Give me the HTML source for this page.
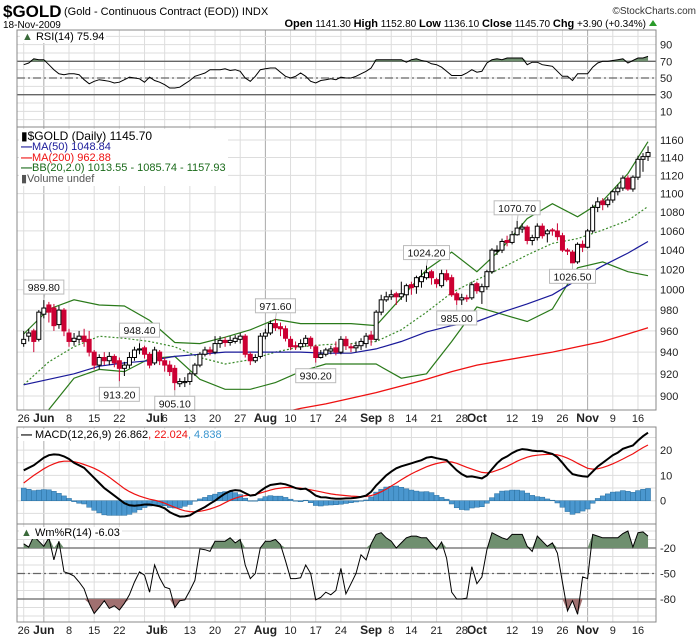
<!DOCTYPE html>
<html><head><meta charset="utf-8"><style>
html,body{margin:0;padding:0;background:#fff;}
svg{display:block;font-family:"Liberation Sans",sans-serif;}
</style></head><body>
<svg id="chart" width="700" height="639" viewBox="0 0 700 639" xmlns="http://www.w3.org/2000/svg">
<rect x="0" y="0" width="700" height="639" fill="#fff"/>
<text x="3" y="17" font-size="17" font-weight="bold">$GOLD</text>
<text x="64" y="15" font-size="11">(Gold - Continuous Contract (EOD)) INDX</text>
<text x="696" y="14" font-size="10" text-anchor="end" fill="#333">©StockCharts.com</text>
<text x="3" y="28" font-size="10">18-Nov-2009</text>
<text x="646" y="27" font-size="10" text-anchor="end"><tspan font-weight="bold" font-size="11">Open</tspan> 1141.30 <tspan font-weight="bold" font-size="11">High</tspan> 1152.80 <tspan font-weight="bold" font-size="11">Low</tspan> 1136.10 <tspan font-weight="bold" font-size="11">Close</tspan> 1145.70 <tspan font-weight="bold" font-size="11">Chg</tspan> +3.90 (+0.34%)</text>
<polygon points="649,26 653,20 657,26" fill="#2a9a2a"/>
<g id="grid"></g>
<g id="marks"></g>
<g id="overlay"></g>
</svg>
<script>
// ===== data =====
const closes=[952,958,950,978,982,978,965,980,960,950,953,955,950,940,928,935,932,936,930,925,928,935,942,943,938,928,942,932,928,922,912,913,913,920,928,938,942,940,948,951,949,951,953,955,938,932,935,955,958,967,963,962,953,945,945,948,953,946,935,938,942,943,940,952,946,944,946,950,955,952,978,990,993,995,993,996,1004,1002,1012,1013,1017,1012,1006,1016,1010,995,990,992,991,1005,999,1003,1018,1040,1040,1049,1048,1056,1063,1064,1050,1053,1065,1055,1060,1060,1054,1040,1039,1027,1046,1043,1060,1085,1091,1088,1093,1102,1106,1117,1105,1118,1138,1141,1145.7];
const opens=[948,955,960,952,976,985,982,966,980,958,950,952,955,952,940,928,935,932,936,932,925,928,935,942,944,938,930,940,932,928,925,911,912,913,920,928,938,942,940,948,951,949,950,952,955,938,932,936,955,958,967,964,962,952,946,945,948,953,945,935,938,941,944,940,952,945,944,946,948,956,952,978,990,993,996,993,995,1005,1003,1008,1012,1018,1010,1004,1016,1012,996,990,992,992,1006,998,1003,1018,1040,1040,1050,1048,1056,1062,1064,1050,1053,1065,1057,1061,1060,1055,1040,1038,1028,1046,1043,1060,1085,1092,1088,1093,1102,1106,1117,1105,1118,1138,1141.3];
const highs=[960,962,962,980,989.8,988,986,984,982,962,958,960,962,960,942,938,940,940,938,935,931,940,945,948.4,946,940,945,942,935,932,928,916,917,922,930,940,945,945,955,955,954,955,956,958,957,940,938,958,962,970,971.6,968,965,955,950,952,956,955,947,942,944,946,950,955,955,948,950,953,958,960,980,995,998,1000,998,1008,1006,1008,1014,1020,1024.2,1020,1012,1020,1020,1015,998,996,995,1008,1008,1006,1020,1042,1045,1052,1055,1060,1070.7,1068,1066,1056,1068,1068,1062,1063,1068,1058,1042,1040,1048,1050,1062,1088,1096,1095,1096,1104,1110,1120,1120,1120,1142,1145,1152.8];
const lows=[945,950,940,950,972,968,960,962,955,945,946,948,945,936,924,924,928,928,926,913.2,918,925,932,938,934,925,928,928,922,918,905.1,908,908,910,918,926,936,937,938,944,945,946,948,948,935,928,930,934,952,956,960,955,950,942,942,942,945,943,930.2,934,936,938,937,938,942,940,940,942,944,946,950,975,988,990,985,990,988,995,996,1002,1010,1005,1002,1002,1008,993,985,985,988,990,996,986,1000,1016,1035,1037,1044,1046,1055,1058,1046,1045,1050,1052,1048,1055,1050,1038,1035,1026.5,1026,1038,1042,1058,1080,1082,1085,1090,1098,1103,1103,1102,1115,1124,1136.1];
// overlays sampled at these bar indices
const sampleIdx=[0,5,10,15,20,25,30,35,40,45,50,55,60,65,70,75,80,85,90,95,100,105,110,115,120,124];
const bbUpper=[957,981,990,985,984,970,949,948,954,961,971,967,967,967,965,992,1020,1038,1018,1042,1073,1089,1075,1092,1122,1158];
const bbMid=[910,931,945,955,953,950,945,935,929,933,940,945,947,948,950,961,978,997,1010,1022,1035,1047,1052,1061,1071,1086];
const bbLower=[850,888,916,924,922,934,936,915,906,906,912,922,929,929,929,916,920,950,983,976,969,981,1022,1028,1018,1014];
const ma50=[910,915,920,927,930,932,936,938,940,940,940,940,939,939,943,950,959,965,969,978,986,995,1010,1024,1037,1049];
const ma200Idx=[52,55,60,65,70,75,80,85,90,95,100,105,110,115,120,124];
const ma200=[886,889,893,898,903,909,915,922,928,932,936,940,945,950,957,963];
const rsi=[66,68,73,72,72,66,60,55,54,55,55,54,48,43,46,48,47,46,44,45,48,51,50,49,45,51,47,45,42,38,38,39,43,47,52,54,56,60,60,60,61,59,60,58,50,46,52,60,61,62,62,57,52,50,52,56,52,46,44,47,48,49,48,51,50,50,52,55,58,62,72,72,72,72,72,72,69,72,73,71,70,67,66,63,58,53,53,53,56,60,57,58,68,72,73,72,74,74,74,74,66,69,69,66,65,64,58,52,52,47,55,55,55,63,68,70,70,71,72,73,68,71,74,74,75.94];
const macd=[12,13,14,15.5,17,18,18.3,18.2,17.5,16.5,15,14,13,11,9,7,5,3.5,2,0.5,-1,-1.8,-2,-1.8,-1.5,-1.5,-1.8,-2.2,-3,-4.5,-5.5,-6.3,-6.2,-5.8,-4.6,-3.5,-2.5,-1.2,0,1.5,2.8,3.8,4.2,4,3,2,2.3,3.8,5.2,6.2,6.5,6.8,6.5,5.8,5,4.6,4.8,3.5,2,1.4,1.3,1,0.8,0.8,0.9,1,1.2,1.5,2,3.5,6,8,10,11.5,12.8,13.6,14.2,14.8,15.4,16,17,17.3,16.8,16.4,16,14,12,10.5,9.5,9.6,9.2,8.8,10,12.5,14.8,16.5,17.5,18.8,19.8,20.4,20.2,19.8,19.6,19.6,19,18.5,17.2,15,12.5,10.5,10,9.7,9.5,11.5,13.5,15,16.5,18,19,20.5,21.2,21.8,23.8,25.5,26.862];
const signal=[7,8.5,10,11.3,12.6,13.7,14.6,15.3,15.6,15.6,15.4,15,14.3,13.6,12.8,11.8,10.6,9.3,7.8,6.3,4.8,3.6,2.6,1.8,1.2,0.6,0.2,-0.3,-1,-1.8,-2.6,-3.4,-4,-4.3,-4.4,-4.2,-3.8,-3.3,-2.6,-1.8,-0.8,0.2,1,1.6,2,2.2,2.4,3,3.6,4.2,4.7,5,5.2,5.2,5.1,5,4.6,4.3,3.9,3.5,3.1,2.7,2.4,2.2,2,1.8,1.7,1.6,1.7,2,2.6,3.5,4.6,5.8,7,8.3,9.5,10.6,11.6,12.5,13.4,14.1,14.7,15.1,15.4,15.3,14.8,14,13.2,12.5,11.8,11.2,11,11.3,12,12.7,13.6,14.6,15.6,16.5,17.2,17.7,18,18.2,18.3,18.3,18.1,17.6,16.8,15.9,14.8,13.8,12.8,12.5,12.6,13.1,13.8,14.6,15.5,16.5,17.5,18.5,19.8,21,22.024];
const willr=[-15,-19,-6,-12,-18,-8,-34,-12,-48,-50,-53,-60,-68,-85,-97,-90,-82,-91,-88,-93,-85,-75,-60,-48,-52,-72,-40,-55,-66,-68,-90,-82,-81,-70,-58,-21,-22,-24,-12,-12,-12,-8,-14,-10,-40,-56,-50,-20,-12,-12,-10,-16,-35,-56,-56,-55,-40,-50,-81,-78,-72,-75,-70,-44,-74,-62,-50,-28,-34,-15,-4,-2,-8,-12,-20,-14,-8,-6,-6,-8,-8,-15,-22,-13,-32,-72,-80,-80,-79,-42,-62,-54,-22,-2,-5,-8,-10,-4,-4,-4,-18,-24,-6,-12,-18,-14,-26,-60,-94,-82,-98,-54,-56,-4,-6,-8,-8,-8,-8,-3,0,-19,-2,-1,-6.03];
const tickIdx=[0,4,9,14,19,26,28,33,38,43,48,53,58,63,69,73,77,82,87,90,97,102,107,112,117,122];
const tickLabels=["26","Jun","8","15","22","Jul","6","13","20","27","Aug","10","17","24","Sep","8","14","21","28","Oct","12","19","26","Nov","9","16"];
const monthIdx=[4,26,48,69,90,112];
const weekIdx=[0,4,9,14,19,24,28,33,38,43,48,53,58,63,68,73,77,82,87,92,97,102,107,112,117,122];
const priceTicks=[900,920,940,960,980,1000,1020,1040,1060,1080,1100,1120,1140,1160];
const rsiTicks=[90,70,50,30,10];
const macdTicks=[20,10,0];
const wmTicks=[-20,-50,-80];
const annIdx=[4,23,19,30,50,58,80,86,98,109];
const annVal=[989.8,948.4,913.2,905.1,971.6,930.2,1024.2,985.0,1070.7,1026.5];
const annLabel=["989.80","948.40","913.20","905.10","971.60","930.20","1024.20","985.00","1070.70","1026.50"];
const annIsHigh=[1,1,0,0,1,0,1,0,1,0];

// ===== geometry =====
const L=17,R=656;
const P={rsi:[30,127],main:[127,410],macd:[427,524],wm:[524,622]};
const X=i=>23.7+5.035*i;
const yP=p=>140+Math.log(1160/p)*1008.7;
const yR=v=>78-(v-50)*0.8333;
const yM=v=>500.7-v*2.53;
const yW=v=>548-(v+20)*0.85;
const NS="http://www.w3.org/2000/svg";
const grid=document.getElementById('grid'),marks=document.getElementById('marks'),ov=document.getElementById('overlay');
function el(tag,attrs,parent){const e=document.createElementNS(NS,tag);for(const k in attrs)e.setAttribute(k,attrs[k]);(parent||marks).appendChild(e);return e;}

// clip paths
const defs=el('defs',{},document.getElementById('chart'));
for(const k in P){const cp=el('clipPath',{id:'clip-'+k},defs);el('rect',{x:L,y:P[k][0],width:R-L,height:P[k][1]-P[k][0]},cp);}

// panels & grids
for(const k in P){
  const [t,b]=P[k];
  const g=el('g',{},grid);
  
  
  for(const w of weekIdx){const x=X(w);const ln=el('line',{x1:x,x2:x,y1:t,y2:b,stroke:monthIdx.includes(w)?'#aaa':'#ddd','stroke-width':1},g);}
  let hv=[];
  if(k==='main')hv=priceTicks.map(yP);
  if(k==='rsi')for(let v=0;v<=100;v+=10)hv.push(yR(v));
  if(k==='macd')for(let v=-5;v<=25;v+=5)hv.push(yM(v));
  if(k==='wm')for(let v=0;v>=-100;v-=10)hv.push(yW(v));
  for(const y of hv){if(y>t&&y<b){const ln=el('line',{x1:L,x2:R,y1:y,y2:y,stroke:'#ddd','stroke-width':1},g);}}
}
// axis tick labels
function rlabel(y,txt,name){const t=el('text',{x:660,y:y+4,'font-size':11,fill:'#222'},ov);t.textContent=txt;}
priceTicks.forEach(p=>rlabel(yP(p),String(p),'price-axis-label'));
rsiTicks.forEach(v=>rlabel(yR(v),String(v),'rsi-axis-label'));
macdTicks.forEach(v=>rlabel(yM(v),String(v),'macd-axis-label'));
wmTicks.forEach(v=>rlabel(yW(v),String(v),'willr-axis-label'));
[418,630].forEach((yy,j)=>{tickIdx.forEach((ti,n)=>{const bold=monthIdx.includes(ti);const t=el('text',{x:X(ti),y:yy+4,'font-size':bold?12:11,'font-weight':bold?'bold':'normal','text-anchor':'middle',fill:'#222'},ov);t.textContent=tickLabels[n];});});

// reference lines
function hline(y,dash,name,col){const ln=el('line',{x1:L,x2:R,y1:y,y2:y,stroke:col||'#666','stroke-width':1.3,'stroke-dasharray':dash||'none'});}
hline(yR(70),null,'rsi-overbought-line');hline(yR(30),null,'rsi-oversold-line');hline(yR(50),'8,3,2,3','rsi-midline');
hline(yW(-20),null,'willr-overbought-line');hline(yW(-80),null,'willr-oversold-line');hline(yW(-50),'8,3,2,3','willr-midline');

function pts(arr,fy,idxArr){return arr.map((v,n)=>X(idxArr?idxArr[n]:n).toFixed(1)+','+fy(v).toFixed(1)).join(' ');}
// RSI
{const y70=yR(70);let p=[X(0)+','+y70];rsi.forEach((v,i)=>p.push(X(i)+','+Math.min(yR(v),y70)));p.push(X(rsi.length-1)+','+y70);
const f=el('polygon',{points:p.join(' '),fill:'#6f8f6f','clip-path':'url(#clip-rsi)'});
const l=el('polyline',{points:pts(rsi,yR),fill:'none',stroke:'#000','stroke-width':1,'clip-path':'url(#clip-rsi)'});}

// main overlays
function ovl(arr,idx,col,w,dash,name){const l=el('polyline',{points:pts(arr,yP,idx),fill:'none',stroke:col,'stroke-width':w,'stroke-dasharray':dash||'none','clip-path':'url(#clip-main)'});}
ovl(bbUpper,sampleIdx,'#2a7a1a',1.2,null,'bb-upper-band');
ovl(bbLower,sampleIdx,'#2a7a1a',1.2,null,'bb-lower-band');
ovl(bbMid,sampleIdx,'#3a8a2a',1.2,'2,2','bb-middle-band');
ovl(ma50,sampleIdx,'#1a1a9a',1.2,null,'ma50-line');
ovl(ma200,ma200Idx,'#ee1111',1.3,null,'ma200-line');

// candles
closes.forEach((c,i)=>{const o=opens[i],x=X(i);const g=el('g',{'clip-path':'url(#clip-main)'});


const up=c>=o;el('line',{x1:x,x2:x,y1:yP(highs[i]),y2:yP(lows[i]),stroke:up?'#000':'#cc0033','stroke-width':1},g);
const yt=yP(Math.max(o,c)),yb=yP(Math.min(o,c));
el('rect',{x:x-2,y:yt,width:4,height:Math.max(1,yb-yt),fill:up?'#fff':'#cc0033',stroke:up?'#000':'#cc0033','stroke-width':1},g);});

// annotations
annIdx.forEach((ai,n)=>{const x=X(ai),y=yP(annVal[n]);const w=annLabel[n].length*6+4;const cy=annIsHigh[n]?y-13:y+13;
const g=el('g',{},ov);


el('line',{x1:x,y1:y,x2:x+(annIsHigh[n]?2:0),y2:cy,stroke:'#bbb','stroke-width':1},g);
el('rect',{x:x-w/2,y:cy-7,width:w,height:14,fill:'#fff',stroke:'#bbb','stroke-width':1},g);
const t=el('text',{x:x,y:cy+4,'font-size':10.5,'text-anchor':'middle',fill:'#111'},g);t.textContent=annLabel[n];});

// MACD
macd.forEach((m,i)=>{const h=m-signal[i];const y0=yM(0),y1=yM(h);const r=el('rect',{x:X(i)-2.5,y:Math.min(y0,y1),width:5,height:Math.max(0.5,Math.abs(y1-y0)),fill:'#4a97cf',stroke:'#2a6f9f','stroke-width':0.5,'clip-path':'url(#clip-macd)'});});
{const s=el('polyline',{points:pts(signal,yM),fill:'none',stroke:'#ee1111','stroke-width':1.2,'clip-path':'url(#clip-macd)'});
const m=el('polyline',{points:pts(macd,yM),fill:'none',stroke:'#000','stroke-width':2,'clip-path':'url(#clip-macd)'});}

// Williams %R
{const y20=yW(-20),y80=yW(-80);let p=[X(0)+','+y20];willr.forEach((v,i)=>p.push(X(i)+','+Math.min(yW(v),y20)));p.push(X(willr.length-1)+','+y20);
const f=el('polygon',{points:p.join(' '),fill:'#6f8f6f','clip-path':'url(#clip-wm)'});
let q=[X(0)+','+y80];willr.forEach((v,i)=>q.push(X(i)+','+Math.max(yW(v),y80)));q.push(X(willr.length-1)+','+y80);
const f2=el('polygon',{points:q.join(' '),fill:'#a07070','clip-path':'url(#clip-wm)'});
const l=el('polyline',{points:pts(willr,yW),fill:'none',stroke:'#000','stroke-width':1,'clip-path':'url(#clip-wm)'});}

// panel borders
for(const k in P){const r=el('rect',{x:L,y:P[k][0],width:R-L,height:P[k][1]-P[k][0],fill:'none',stroke:'#888','stroke-width':1},ov);}
</script>
<svg width="0" height="0"></svg>
<div style="position:absolute;left:0;top:0;width:700px;height:639px;pointer-events:none;font-family:'Liberation Sans',sans-serif;">
<div style="position:absolute;left:20px;top:31px;font-size:11px;background:#fff;padding:0 2px;"><span style="color:#3a6a3a">&#9650;</span> RSI(14) 75.94</div>
<div style="position:absolute;left:19px;top:129px;font-size:11px;line-height:10.7px;background:#fff;padding:1px 2px;">
<div style="font-size:12px;line-height:12px">&#9646;$GOLD (Daily) 1145.70</div>
<div style="color:#1a1a9a"><b>&#8212;</b>MA(50) 1048.84</div>
<div style="color:#ee1111"><b>&#8212;</b>MA(200) 962.88</div>
<div style="color:#1a6a1a"><b>&#8212;</b>BB(20,2.0) 1013.55 - 1085.74 - 1157.93</div>
<div style="color:#555">&#9646;Volume undef</div>
</div>
<div style="position:absolute;left:19px;top:429px;font-size:11px;background:#fff;padding:0 2px;"><b>&#8212;</b> MACD(12,26,9) 26.862<span style="color:#ee1111">, 22.024</span><span style="color:#3a95cf">, 4.838</span></div>
<div style="position:absolute;left:19px;top:527px;font-size:11px;background:#fff;padding:0 2px;"><span style="color:#3a6a3a">&#9650;</span> Wm%R(14) -6.03</div>
</div>
</body></html>
